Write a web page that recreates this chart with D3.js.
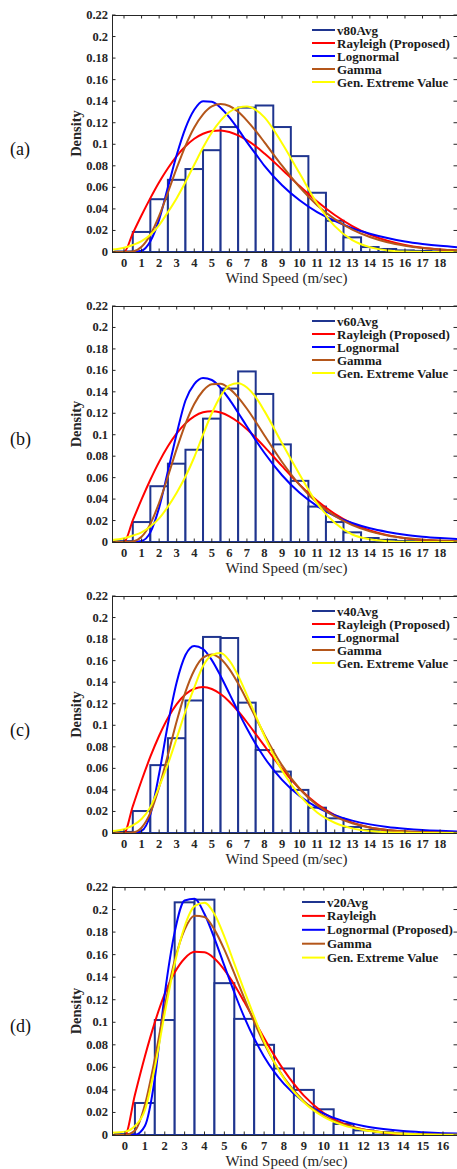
<!DOCTYPE html>
<html><head><meta charset="utf-8">
<script src="https://cdn.jsdelivr.net/npm/d3@7/dist/d3.min.js"></script>
<style>body{margin:0;background:#fff;} svg{display:block;}</style>
</head><body>
<svg id="chart" width="457" height="1169"></svg>
<script>
// ---------- data ----------
const xSamples = [-0.7,0,0.5,1,1.5,2,2.5,3,3.5,4,4.5,5,5.5,6,6.5,7,7.5,8,9,10,11,12,13,14,15,16,17,18,19];

const bins18 = [0,1,2,3,4,5,6,7,8,9,10,11,12,13,14,15,16,17,18];
const bins16 = [0,1,2,3,4,5,6,7,8,9,10,11,12,13,14,15,16];

const yTickValues = [0,0.02,0.04,0.06,0.08,0.1,0.12,0.14,0.16,0.18,0.2,0.22];
const yTickLabels = ["0","0.02","0.04","0.06","0.08","0.1","0.12","0.14","0.16","0.18","0.2","0.22"];
const xTicks18 = ["0","1","2","3","4","5","6","7","8","9","10","11","12","13","14","15","16","17","18"];
const xTicks16 = ["0","1","2","3","4","5","6","7","8","9","10","11","12","13","14","15","16"];

// histogram densities
const v80Avg = [0.0005,0.0186,0.049,0.067,0.077,0.0945,0.116,0.134,0.136,0.116,0.089,0.055,0.029,0.0136,0.0046,0.0028,0.0015,0.001,0.0006];
const v60Avg = [0.0008,0.0186,0.052,0.073,0.086,0.115,0.143,0.159,0.138,0.091,0.057,0.033,0.0186,0.009,0.0037,0.002,0.001,0.0008,0.0005];
const v40Avg = [0.001,0.0204,0.063,0.088,0.123,0.182,0.181,0.121,0.077,0.057,0.040,0.0235,0.0136,0.0056,0.0028,0.0015,0.0009,0.0006,0.0005];
const v20Avg = [0.0008,0.0284,0.102,0.2064,0.2088,0.1347,0.103,0.080,0.059,0.040,0.0228,0.0098,0.0041,0.0024,0.0012,0.0009,0.0006];

// fitted curves, read at xSamples
const rayleigh80 = [0,0,0.0173,0.0341,0.0500,0.0648,0.0778,0.0890,0.0981,0.1051,0.1098,0.1124,0.1129,0.1114,0.1083,0.1038,0.0981,0.0914,0.0766,0.0612,0.0468,0.0343,0.0241,0.0162,0.0105,0.0065,0.0039,0.0023,0.0013];
const lognormal80 = [0,0,0.0001,0.0012,0.010,0.030,0.060,0.090,0.115,0.132,0.140,0.1395,0.134,0.125,0.114,0.102,0.091,0.080,0.062,0.048,0.037,0.029,0.022,0.017,0.013,0.0098,0.0075,0.0057,0.0044];
const gamma80 = [0,0,0.0005,0.0049,0.0161,0.0336,0.0552,0.0778,0.0986,0.1156,0.1278,0.1351,0.1373,0.1355,0.1301,0.1220,0.1124,0.1018,0.0801,0.0602,0.0435,0.0305,0.0208,0.0139,0.0091,0.0059,0.0037,0.0023,0.0015];
const gev80 = [0.0022,0.004,0.0065,0.010,0.016,0.025,0.037,0.050,0.065,0.081,0.097,0.111,0.122,0.130,0.134,0.135,0.132,0.125,0.101,0.073,0.045,0.024,0.011,0.0045,0.0015,0.0004,0.0001,0,0];

const rayleigh60 = [0,0,0.0201,0.0397,0.0580,0.0747,0.0892,0.1012,0.1106,0.1171,0.1209,0.1220,0.1207,0.1172,0.1119,0.1051,0.0972,0.0887,0.0707,0.0535,0.0385,0.0263,0.0172,0.0107,0.0064,0.0036,0.0020,0.0010,0.0005];
const lognormal60 = [0,0,0.0001,0.001,0.009,0.032,0.066,0.101,0.1319,0.1472,0.1529,0.1510,0.1436,0.1329,0.1205,0.1076,0.0949,0.0830,0.0622,0.0458,0.0335,0.0243,0.0177,0.0128,0.0094,0.0068,0.0050,0.0037,0.0027];
const gamma60 = [0,0,0.0005,0.0049,0.0169,0.0366,0.0611,0.0868,0.1101,0.1286,0.1410,0.1471,0.1475,0.1430,0.1349,0.1242,0.1121,0.0993,0.0746,0.0532,0.0365,0.0243,0.0157,0.0099,0.0061,0.0037,0.0022,0.0013,0.0008];
const gev60 = [0.0018,0.0035,0.006,0.009,0.0145,0.022,0.033,0.046,0.061,0.079,0.100,0.120,0.136,0.146,0.148,0.144,0.135,0.122,0.092,0.063,0.036,0.018,0.007,0.0025,0.0008,0.0002,0.0001,0,0];

const rayleigh40 = [0,0,0.0248,0.0487,0.0708,0.0903,0.1068,0.1196,0.1287,0.1339,0.1355,0.1337,0.1290,0.1219,0.1130,0.1028,0.0919,0.0808,0.0595,0.0411,0.0268,0.0165,0.0096,0.0052,0.0027,0.0013,0.0006,0.0003,0.0001];
const lognormal40 = [0,0,0.0001,0.002,0.017,0.055,0.101,0.140,0.1652,0.1737,0.1708,0.1605,0.1458,0.1294,0.1127,0.0970,0.0826,0.0699,0.0493,0.0343,0.0238,0.0165,0.0115,0.0080,0.0056,0.0040,0.0028,0.0020,0.0014];
const gamma40 = [0,0,0.0004,0.0049,0.0186,0.0424,0.0725,0.1037,0.1310,0.1511,0.1628,0.1658,0.1617,0.1521,0.1387,0.1232,0.1070,0.0911,0.0628,0.0411,0.0257,0.0155,0.0091,0.0052,0.0029,0.0016,0.0009,0.0005,0.0003];
const gev40 = [0.0018,0.0035,0.007,0.013,0.024,0.043,0.064,0.088,0.113,0.135,0.155,0.165,0.167,0.160,0.146,0.128,0.109,0.090,0.058,0.035,0.019,0.0095,0.0043,0.0018,0.0007,0.0003,0.0001,0,0];

const rayleigh20 = [0,0,0.0358,0.0697,0.0999,0.1251,0.1441,0.1566,0.1625,0.1621,0.1565,0.1464,0.1333,0.1181,0.1020,0.0861,0.0710,0.0573,0.0349,0.0195,0.0100,0.0048,0.0021,0.0008,0.0003,0.0001,0,0,0];
const lognormal20 = [0,0,0.0002,0.008,0.050,0.125,0.180,0.208,0.2095,0.1960,0.1745,0.1502,0.1264,0.1046,0.0856,0.0695,0.0562,0.0453,0.0293,0.0189,0.0123,0.0080,0.0053,0.0035,0.0024,0.0016,0.0011,0.0008,0.0006];
const gamma20 = [0,0,0.0039,0.0266,0.0675,0.1142,0.1548,0.1822,0.1945,0.1934,0.1822,0.1644,0.1433,0.1214,0.1004,0.0813,0.0647,0.0507,0.0300,0.0170,0.0093,0.0049,0.0025,0.0013,0.0006,0.0003,0.0002,0.0001,0];
const gev20 = [0.002,0.003,0.008,0.022,0.060,0.108,0.152,0.185,0.203,0.206,0.196,0.176,0.152,0.128,0.105,0.083,0.065,0.050,0.029,0.016,0.0085,0.0044,0.0022,0.0011,0.0005,0.0002,0.0001,0,0];

const legendA = ["v80Avg","Rayleigh (Proposed)","Lognormal","Gamma","Gen. Extreme Value"];
const legendB = ["v60Avg","Rayleigh (Proposed)","Lognormal","Gamma","Gen. Extreme Value"];
const legendC = ["v40Avg","Rayleigh (Proposed)","Lognormal","Gamma","Gen. Extreme Value"];
const legendD = ["v20Avg","Rayleigh","Lognormal (Proposed)","Gamma","Gen. Extreme Value"];
const panelLabels = ["(a)","(b)","(c)","(d)"];

// ---------- styling / layout ----------
const barColor = "#1f358f";
const curveColors = ["#ff0000","#0000ff","#b4561a","#ffff00"];
const legendColors = [barColor].concat(curveColors);
const axisColor = "#262626";
const serif = "'Liberation Serif','Times New Roman',serif";

const panels = [
  {label:panelLabels[0], bins:bins18, hist:v80Avg, curves:[rayleigh80,lognormal80,gamma80,gev80], legend:legendA, xt:xTicks18,
   xDom:[-0.684,19.02], top:15, bottom:252, legX:312, legDy:13},
  {label:panelLabels[1], bins:bins18, hist:v60Avg, curves:[rayleigh60,lognormal60,gamma60,gev60], legend:legendB, xt:xTicks18,
   xDom:[-0.684,19.02], top:306, bottom:542, legX:312, legDy:13},
  {label:panelLabels[2], bins:bins18, hist:v40Avg, curves:[rayleigh40,lognormal40,gamma40,gev40], legend:legendC, xt:xTicks18,
   xDom:[-0.684,19.02], top:596, bottom:833, legX:312, legDy:13},
  {label:panelLabels[3], bins:bins16, hist:v20Avg, curves:[rayleigh20,lognormal20,gamma20,gev20], legend:legendD, xt:xTicks16,
   xDom:[-0.654,16.755], top:887, bottom:1135, legX:302, legDy:13.9}
];

const svg = d3.select("#chart");
const left = 112, right = 458;

panels.forEach((p, pi) => {
  const x = d3.scaleLinear().domain(p.xDom).range([left, right]);
  const y = d3.scaleLinear().domain([0, 0.22]).range([p.bottom, p.top]);
  const g = svg.append("g");

  const clipId = "clip" + pi;
  svg.append("clipPath").attr("id", clipId).append("rect")
    .attr("x", left).attr("y", p.top).attr("width", right - left).attr("height", p.bottom - p.top);

  // bars
  g.append("g").selectAll("rect").data(p.bins).join("rect")
    .attr("x", d => x(d - 0.5))
    .attr("width", d => x(d + 0.5) - x(d - 0.5))
    .attr("y", (d, i) => y(p.hist[i]))
    .attr("height", (d, i) => y(0) - y(p.hist[i]))
    .attr("fill", "#fff")
    .attr("stroke", barColor)
    .attr("stroke-width", 2);

  // curves
  const line = d3.line().x(d => x(d[0])).y(d => y(d[1])).curve(d3.curveMonotoneX);
  const cg = g.append("g").attr("clip-path", `url(#${clipId})`);
  p.curves.forEach((c, ci) => {
    cg.append("path")
      .datum(xSamples.map((xv, k) => [xv, c[k]]))
      .attr("d", line)
      .attr("fill", "none")
      .attr("stroke", curveColors[ci])
      .attr("stroke-width", 2);
  });

  // axes box
  const ag = g.append("g").attr("stroke", axisColor).attr("stroke-width", 1).attr("fill", "none");
  ag.append("line").attr("x1", left).attr("x2", right).attr("y1", p.bottom + 0.5).attr("y2", p.bottom + 0.5);
  ag.append("line").attr("x1", left).attr("x2", right).attr("y1", p.top + 0.5).attr("y2", p.top + 0.5);
  ag.append("line").attr("x1", left + 0.5).attr("x2", left + 0.5).attr("y1", p.top).attr("y2", p.bottom + 0.5);
  ag.append("line").attr("x1", right - 0.5).attr("x2", right - 0.5).attr("y1", p.top).attr("y2", p.bottom + 0.5);

  const tl = 3.5;
  // x ticks (bottom & top, inward)
  p.xt.forEach((lab, i) => {
    const xv = x(+lab);
    ag.append("line").attr("x1", xv).attr("x2", xv).attr("y1", p.bottom).attr("y2", p.bottom - tl);
    ag.append("line").attr("x1", xv).attr("x2", xv).attr("y1", p.top).attr("y2", p.top + tl);
    g.append("text").attr("x", xv).attr("y", p.bottom + 11)
      .attr("text-anchor", "middle").attr("dominant-baseline", "central")
      .attr("font-family", serif).attr("font-weight", "bold").attr("font-size", 12.5)
      .attr("fill", axisColor).text(lab);
  });
  // y ticks (left & right, inward)
  yTickValues.forEach((v, i) => {
    const yv = y(v);
    ag.append("line").attr("x1", left).attr("x2", left + tl).attr("y1", yv).attr("y2", yv);
    ag.append("line").attr("x1", right - 1).attr("x2", right - 1 - tl).attr("y1", yv).attr("y2", yv);
    g.append("text").attr("x", left - 4).attr("y", yv)
      .attr("text-anchor", "end").attr("dominant-baseline", "central")
      .attr("font-family", serif).attr("font-weight", "bold").attr("font-size", 12.5)
      .attr("fill", axisColor).text(yTickLabels[i]);
  });

  // axis titles
  g.append("text").attr("x", (left + 457) / 2 + 2).attr("y", p.bottom + 26)
    .attr("text-anchor", "middle").attr("dominant-baseline", "central")
    .attr("font-family", serif).attr("font-size", 15).attr("fill", axisColor)
    .text("Wind Speed (m/sec)");
  const cy = (p.top + p.bottom) / 2;
  g.append("text").attr("transform", `translate(76,${cy}) rotate(-90)`)
    .attr("text-anchor", "middle").attr("dominant-baseline", "central")
    .attr("font-family", serif).attr("font-weight", "bold").attr("font-size", 14.5).attr("fill", axisColor)
    .text("Density");

  // panel label
  g.append("text").attr("x", 10).attr("y", cy + 15)
    .attr("dominant-baseline", "central")
    .attr("font-family", serif).attr("font-size", 18).attr("fill", "#111")
    .text(p.label);

  // legend
  p.legend.forEach((lab, i) => {
    const ly = p.top + 15 + i * p.legDy;
    g.append("line").attr("x1", p.legX).attr("x2", p.legX + 23).attr("y1", ly).attr("y2", ly)
      .attr("stroke", legendColors[i]).attr("stroke-width", 2);
    g.append("text").attr("x", p.legX + 25).attr("y", ly)
      .attr("dominant-baseline", "central")
      .attr("font-family", serif).attr("font-weight", "bold").attr("font-size", 13)
      .attr("fill", "#1a1a1a").text(lab);
  });
});
</script>
</body></html>
